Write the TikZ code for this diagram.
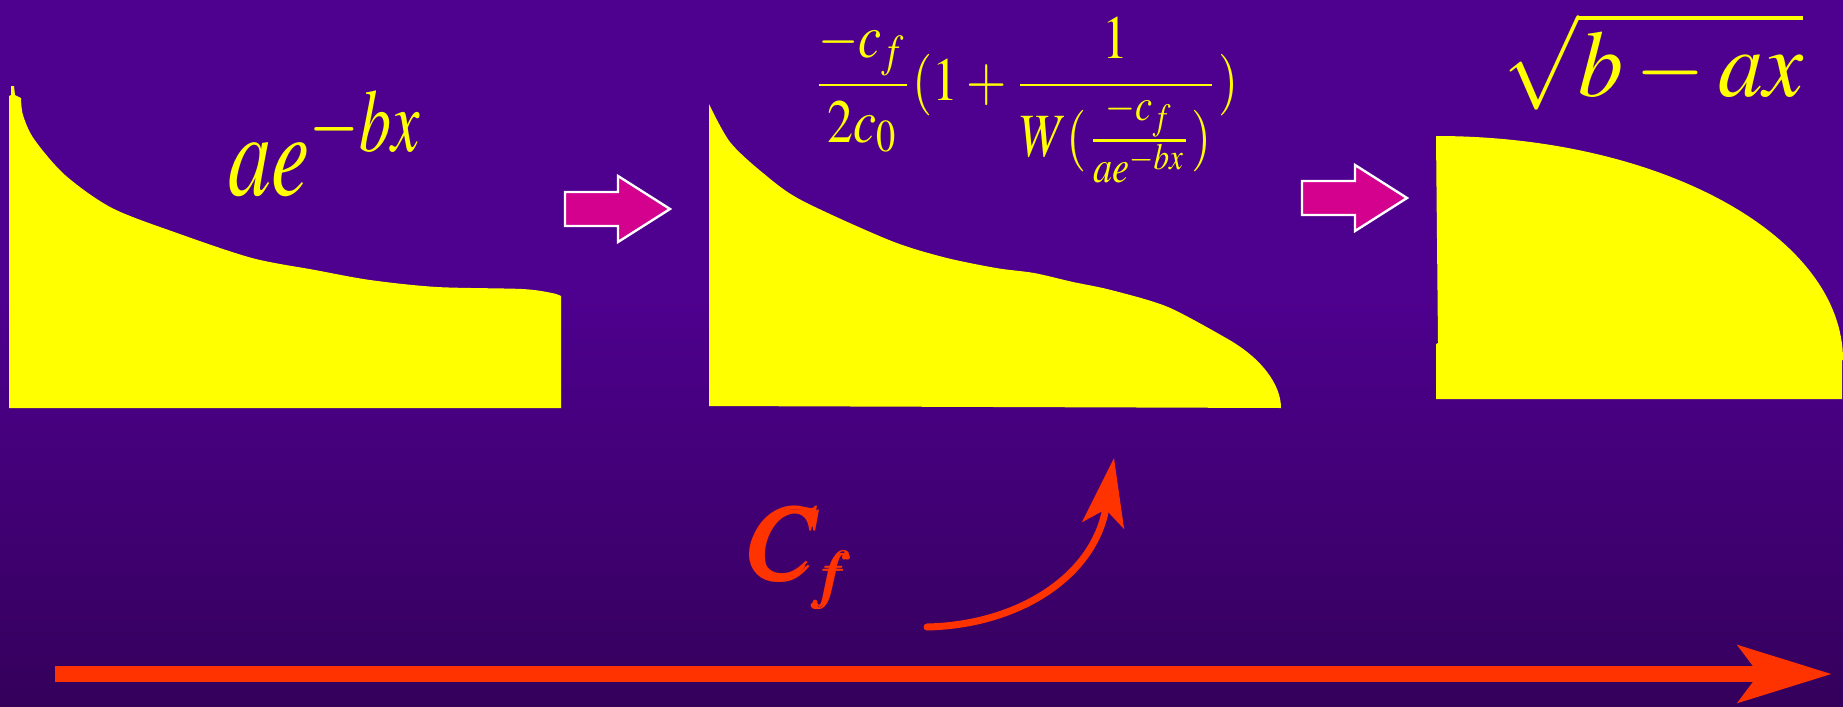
\documentclass[tikz,border=0pt]{standalone}
\usepackage{mathptmx}
\usepackage{bm}
\usepackage{graphicx}
\usetikzlibrary{arrows.meta}
\definecolor{cbg}{HTML}{4E008E}
\definecolor{cbgdark}{HTML}{34005B}
\definecolor{cyellow}{HTML}{FFFF00}
\definecolor{cpink}{HTML}{D4008E}
\definecolor{cred}{HTML}{FF3300}
\tikzset{
  every picture/.style={x=0.5pt, y=-0.5pt},
  profile/.style={fill=cyellow, draw=none},
  formula/.style={text=cyellow, inner sep=0pt, anchor=north west},
  blockarrow/.style={fill=cpink, draw=white, line width=1.2pt, line join=miter},
  axisarrow/.style={draw=cred, line width=8pt, -{Stealth[length=46.5pt, width=28pt, inset=10pt]}},
  bendarrow/.style={draw=cred, line width=3.5pt, line cap=round, -{Stealth[length=34pt, width=21pt, inset=8pt]}},
}
\begin{document}
\begin{tikzpicture}
  % background
  \useasboundingbox (0,0) rectangle (1843,707);
  \fill[cbg] (0,0) rectangle (1843,707);
  \shade[top color=cbg, bottom color=cbgdark] (0,300) rectangle (1843,707);
  % (a) exponential profile
  \fill[profile] (9,408) -- (9,96) -- (11,95) -- (11,86) -- (14,86) -- (15,95) -- plot[smooth] coordinates {(21,98) (23,115) (34,139) (65,175) (112,208) (177,233) (252,258) (315,270) (370,280) (437,287) (522,289) (552,293) (561,296)} -- (561,408) -- cycle;
  \node[formula] (fexp) at (228,90) {\resizebox*{98pt}{53pt}{$ae^{-bx}$}};
  % (b) Lambert-W profile
  \fill[profile] (709,406) -- plot[smooth] coordinates {(709,104) (730,142) (763,173) (801,200) (889,240) (943,257) (996,268) (1034,273) (1073,282) (1111,290) (1168,307) (1226,338)} .. controls (1262,358) and (1281,385) .. (1281,408) -- cycle;
  \node[formula] (flam) at (812,17) {\resizebox*{213pt}{83pt}{$\displaystyle\frac{-c_f}{2c_0}(1+\frac{1}{W(\frac{-c_f}{ae^{-bx}})})$}};
  % (c) square-root profile
  \fill[profile] (1436,399) -- (1436,344) -- (1438,343) -- (1436,136) .. controls (1661,136) and (1843,236) .. (1843,360) -- (1842,360) -- (1842,399) -- cycle;
  \node[formula] (fsqrt) at (1503,12) {\resizebox*{150pt}{49pt}{$\sqrt{b-ax}$}};
  % block arrows between the profiles
  \foreach \x/\y in {565/209, 1302/198}
    \draw[blockarrow] (\x,\y-17) -- (\x+53,\y-17) -- (\x+53,\y-33) -- (\x+105,\y) -- (\x+53,\y+33) -- (\x+53,\y+17) -- (\x,\y+17) -- cycle;
  % increasing c_f
  \node[text=cred, inner sep=0pt, anchor=north west, font=\fontsize{53}{56}\selectfont] (cf) at (747,505) {$\bm{C}_{\mkern-2mu\scriptscriptstyle\bm{f}}$};
  \coordinate (bs) at (927,627);
  \coordinate (be) at (1114,458);
  \draw[bendarrow] (bs) .. controls (1020,625) and (1095,575) .. (be);
  \coordinate (ax0) at (55,674);
  \coordinate (ax1) at (1832,674);
  \draw[axisarrow] (ax0) -- (ax1);
\end{tikzpicture}
\end{document}
